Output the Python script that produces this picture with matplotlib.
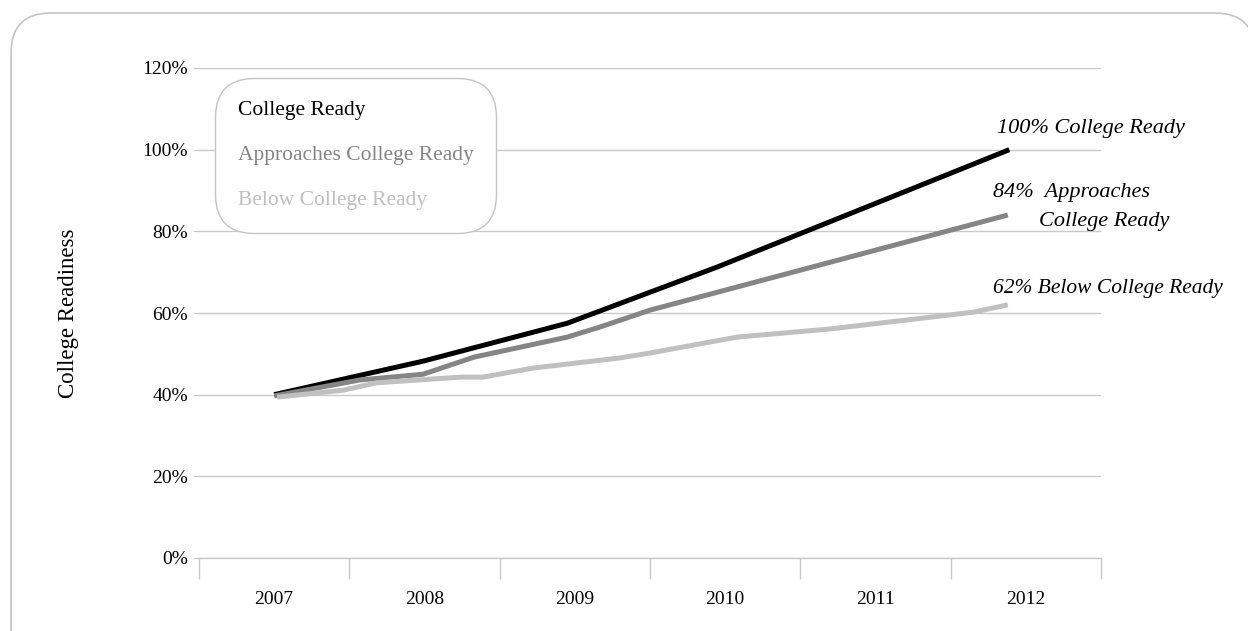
import matplotlib
matplotlib.use('Agg')
import matplotlib.pyplot as plt
from matplotlib.patches import FancyBboxPatch

years = [2007, 2008, 2009, 2010, 2011, 2012]

# (fractional year, percent)
ready_x = [2007.0, 2007.99, 2008.95, 2009.95, 2011.89]
ready_y = [40.0, 48.2, 57.5, 71.3, 100.0]

approach_x = [2007.0, 2007.57, 2007.99, 2008.33, 2008.95, 2009.17, 2009.50, 2011.88]
approach_y = [39.7, 43.6, 45.0, 49.2, 54.1, 56.6, 60.7, 84.0]

below_x = [2007.02, 2007.46, 2007.68, 2008.24, 2008.39, 2008.72, 2009.30, 2009.50,
           2010.08, 2010.70, 2011.65, 2011.88]
below_y = [39.4, 41.1, 42.9, 44.3, 44.3, 46.5, 49.0, 50.2, 54.1, 56.1, 60.2, 62.0]

labels = ('College Ready', 'Approaches College Ready', 'Below College Ready')
colours = ('#000000', '#858585', '#c0c0c0')
grid_c = '#c8c8c8'

plt.rcParams['font.family'] = ['Liberation Serif', 'DejaVu Serif']

fig = plt.figure(figsize=(12.48, 6.31), dpi=100)
ax = fig.add_axes([199/1248, 73/631, 902/1248, 490/631])

# rounded frame around the whole chart (runs off the right and bottom edges)
# filled so agg doesn't path-clip the curved corner
frame = FancyBboxPatch((11, -60), 1244, 631 - 13 + 60,
                       boxstyle='round,pad=0,rounding_size=40',
                       transform=None, facecolor='white', edgecolor='#c4c4c4',
                       linewidth=1.2, zorder=-1)
fig.patches.append(frame)

series = [(ready_x, ready_y), (approach_x, approach_y), (below_x, below_y)]
for (xs, ys), lab, c in zip(series, labels, colours):
    ax.plot(xs, ys, color=c, linewidth=3.6, label=lab, solid_capstyle='butt',
            solid_joinstyle='miter', zorder=3)

ax.set_xlim(2006.5, 2012.5)
ax.set_ylim(0, 120)
ax.set_yticks(range(0, 121, 20))
ax.set_yticklabels(['%d%%' % v for v in range(0, 121, 20)])
ax.set_xticks(years)
ax.set_xticklabels([str(y) for y in years])
ax.set_xticks([y - 0.5 for y in years] + [years[-1] + 0.5], minor=True)

ax.grid(True, axis='y', color=grid_c, linewidth=1.0)
ax.set_axisbelow(True)
for s in ('top', 'right', 'left'):
    ax.spines[s].set_visible(False)
ax.spines['bottom'].set_color(grid_c)
ax.spines['bottom'].set_linewidth(1.0)

ax.tick_params(axis='y', length=4, color=grid_c, labelsize=14, pad=4)
ax.tick_params(axis='x', which='major', length=0, labelsize=14, pad=24)
ax.tick_params(axis='x', which='minor', length=15, color=grid_c, width=1.0)

ax.set_ylabel('College Readiness', fontsize=16.5)
ax.yaxis.set_label_coords(-0.133, 0.5)

leg = ax.legend(loc='upper left', bbox_to_anchor=(0.0177, 0.98), borderaxespad=0,
                handlelength=0, handletextpad=0, labelcolor='linecolor',
                fontsize=15.5, borderpad=1.05, labelspacing=1.15, framealpha=1)
leg.get_frame().set_boxstyle('round', pad=0, rounding_size=1.8)
leg.get_frame().set_edgecolor('#c4c4c4')
leg.get_frame().set_linewidth(1.0)
for h in leg.legend_handles:
    h.set_visible(False)

# end labels
ax.text(2011.81, 105.3, '%d%% College Ready' % round(ready_y[-1]),
        style='italic', fontsize=16, va='center', ha='left')
ax.text(2011.78, 89.6, '%d%%  Approaches' % round(approach_y[-1]),
        style='italic', fontsize=16, va='center', ha='left')
ax.text(2012.09, 82.3, 'College Ready',
        style='italic', fontsize=16, va='center', ha='left')
ax.text(2011.78, 66.1, '%d%% Below College Ready' % round(below_y[-1]),
        style='italic', fontsize=15.5, va='center', ha='left')

fig.savefig('out.png', dpi=100)
